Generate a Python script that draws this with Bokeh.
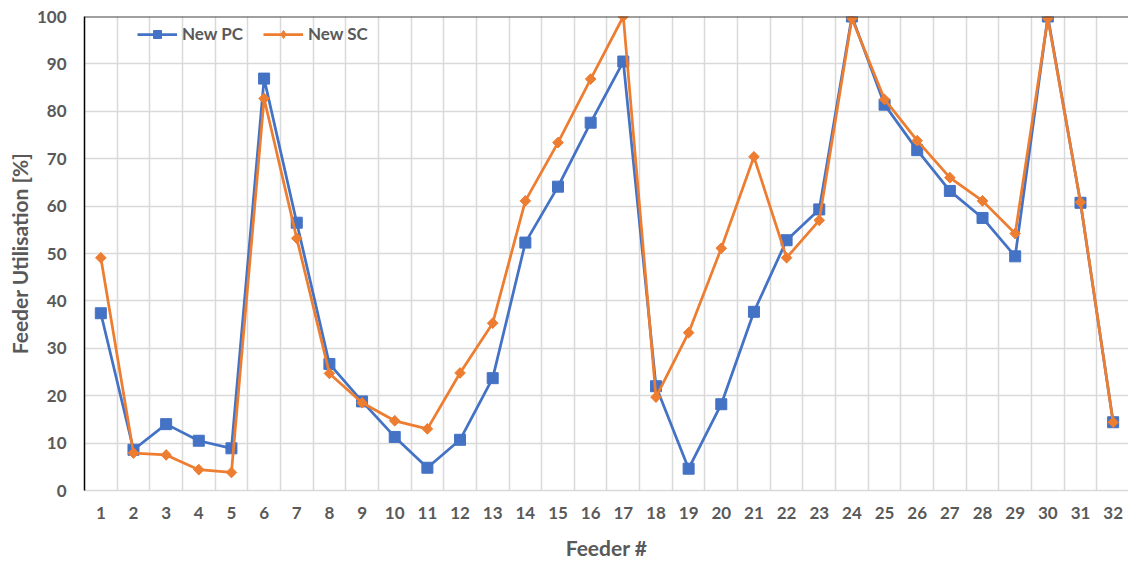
import numpy as np
from bokeh.plotting import figure
from bokeh.models import (FixedTicker, Span, Legend, LegendItem, Range1d,
                          ColumnDataSource)
from bokeh.embed import file_html
from bokeh.resources import INLINE

# Feeder numbers and utilisation (%) for the two configurations
feeders = list(range(1, 33))
new_pc = [37.4, 8.6, 14.0, 10.5, 8.9, 86.9, 56.5, 26.7, 18.8, 11.3, 4.8, 10.7,
          23.7, 52.3, 64.1, 77.6, 90.5, 22.0, 4.6, 18.2, 37.7, 52.8, 59.3, 100.0,
          81.4, 71.8, 63.2, 57.5, 49.4, 100.0, 60.7, 14.4]
new_sc = [49.1, 7.9, 7.5, 4.4, 3.8, 82.7, 53.2, 24.7, 18.5, 14.7, 13.0, 24.8,
          35.3, 61.1, 73.4, 86.8, 100.0, 19.7, 33.3, 51.1, 70.4, 49.1, 57.0, 99.6,
          82.5, 73.8, 66.0, 61.1, 54.2, 99.6, 60.8, 14.4]
y_ticks = list(range(0, 101, 10))

BLUE = "#4472C4"
ORANGE = "#ED7D31"
TEXT = "#595959"
GRID = "#D9D9D9"
FONT = "Lato"

n = len(feeders)
src = ColumnDataSource(dict(x=feeders, pc=new_pc, sc=new_sc,
                            rot=[np.pi / 4] * n))

p = figure(width=1128, height=564, output_backend="svg", toolbar_location=None,
           frame_width=1044, frame_height=474,
           x_range=Range1d(0.5, n + 0.47), y_range=Range1d(0, 100),
           min_border_left=84, min_border_right=0, min_border_top=16,
           min_border_bottom=74)
p.outline_line_color = None
p.background_fill_color = "white"
p.border_fill_color = "white"

# x axis: labels at each feeder, grid lines between feeders
p.xaxis.ticker = FixedTicker(ticks=feeders)
p.xgrid.ticker = FixedTicker(ticks=[f - 0.5 for f in feeders] + [n + 0.5])
p.yaxis.ticker = FixedTicker(ticks=y_ticks)
p.ygrid.ticker = FixedTicker(ticks=y_ticks)
for g in (p.xgrid, p.ygrid):
    g.grid_line_color = GRID
    g.grid_line_width = 1.5

for ax in (p.xaxis, p.yaxis):
    ax.major_tick_line_color = None
    ax.minor_tick_line_color = None
    ax.major_label_text_color = TEXT
    ax.major_label_text_font = FONT
    ax.major_label_text_font_style = "bold"
    ax.major_label_text_font_size = "17px"
    ax.axis_label_text_color = TEXT
    ax.axis_label_text_font = FONT
    ax.axis_label_text_font_style = "bold"
    ax.axis_label_text_font_size = "21px"

p.xaxis.axis_line_color = GRID
p.xaxis.axis_line_width = 1.5
p.yaxis.axis_line_color = "black"
p.yaxis.axis_line_width = 1.5
p.xaxis.major_label_standoff = 10
p.yaxis.major_label_standoff = 12
p.xaxis.axis_label = "Feeder #"
p.yaxis.axis_label = "Feeder Utilisation [%]"
p.xaxis.axis_label_standoff = 13
p.yaxis.axis_label_standoff = 2

# dark rule along the top of the plot area
p.add_layout(Span(location=100, dimension="width", line_color="#404040", line_width=2))

pc_line = p.line("x", "pc", source=src, line_color=BLUE, line_width=2.75)
pc_pts = p.scatter("x", "pc", source=src, marker="square", size=11,
                   fill_color=BLUE, line_color=BLUE)
sc_line = p.line("x", "sc", source=src, line_color=ORANGE, line_width=2.75)
# diamond glyph (used as the legend swatch) sits under the rotated squares
sc_key = p.scatter("x", "sc", source=src, marker="diamond", size=10,
                   fill_color=ORANGE, line_color=ORANGE)
sc_pts = p.scatter("x", "sc", source=src, marker="square", angle="rot", size=7.5,
                   fill_color=ORANGE, line_color=ORANGE)

legend = Legend(items=[LegendItem(label="New PC", renderers=[pc_line, pc_pts]),
                       LegendItem(label="New SC", renderers=[sc_line, sc_key])],
                orientation="horizontal", location=(53, 446),
                glyph_width=40, glyph_height=20, label_standoff=5, spacing=20,
                padding=0, margin=0, border_line_color=None,
                background_fill_alpha=0,
                label_text_font=FONT, label_text_font_style="bold",
                label_text_font_size="17px", label_text_color=TEXT)
p.add_layout(legend)

open("out.html", "w").write(file_html(p, INLINE))
